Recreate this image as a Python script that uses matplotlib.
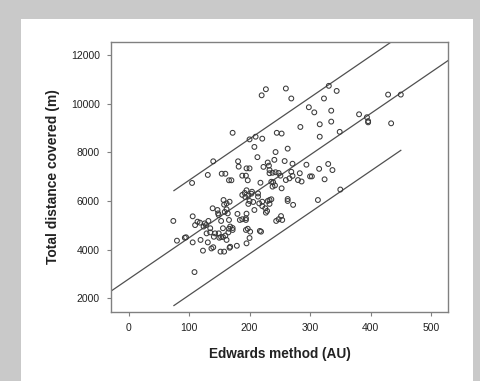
import numpy as np
import matplotlib.pyplot as plt
from matplotlib import patches

# Edwards TRIMP (AU) vs total distance covered (m)
edwards = [227, 220, 260, 269, 331, 344, 323, 298, 307, 335, 316, 335, 284, 381, 394, 396, 396,
           429, 450, 434, 349, 316, 245, 253, 221, 210, 200, 172, 208, 263, 243, 213, 140, 181,
           182, 195, 200, 131, 105, 154, 160, 166, 170, 188, 194, 197, 218, 223, 230, 232, 233,
           241, 238, 243, 248, 251, 258, 271, 269, 260, 266, 271, 280, 286, 283, 294, 300, 303,
           315, 330, 337, 324, 313, 350, 233,
           204, 195, 192, 188, 193, 198, 203, 206, 200, 198, 214, 214, 208, 216, 221, 221, 226,
           227, 230, 233, 236, 233, 229, 238, 242, 239, 236, 253, 263, 263, 272, 252, 244, 248,
           254, 217, 200, 195, 197, 194, 194, 188, 194, 180, 195, 184, 179, 168, 167, 158, 152,
           160, 156, 153, 150, 162, 165, 166, 168, 172, 172, 166, 164, 162, 158, 157, 162, 167,
           159, 153, 148, 149, 139, 147, 135, 135, 129, 141, 143, 149, 156, 131, 137, 140, 123,
           119, 106, 109, 80, 93, 95, 74, 106, 114, 118, 126, 128, 132, 110, 124, 201, 219]
distance = [10590, 10340, 10620, 10210, 10730, 10520, 10210, 9850, 9640, 9710, 9150, 9260, 9040,
            9560, 9440, 9230, 9280, 10370, 10370, 9190, 8840, 8640, 8800, 8770, 8560, 8640, 8530,
            8800, 8220, 8150, 8010, 7800, 7630, 7630, 7410, 7340, 7340, 7070, 6740, 7120, 7120,
            6850, 6850, 7040, 7040, 6850, 6750, 7400, 7580, 7450, 7270, 7690, 7160, 7180, 7150,
            7040, 7640, 7530, 7200, 6860, 6930, 7030, 6860, 6800, 7140, 7490, 7010, 7010, 7320,
            7520, 7270, 6890, 6040, 6470, 7140,
            6380, 6440, 6330, 6250, 6160, 6220, 6300, 5960, 6000, 5880, 6310, 6180, 5630, 5900,
            5970, 5790, 5700, 5520, 6000, 6040, 6070, 5880, 5590, 6590, 6640, 6770, 6790, 6520,
            6080, 6000, 5840, 5380, 5180, 5250, 5220, 4770, 4480, 4260, 4860, 4810, 5220, 5250,
            5290, 5470, 5480, 5220, 4160, 4120, 4080, 3920, 3920, 4580, 4520, 4520, 4490, 4400,
            4710, 4860, 4950, 4890, 4810, 5220, 5490, 5660, 5850, 6040, 5900, 5970, 5550, 5180,
            5490, 5420, 5700, 5630, 4880, 4710, 4670, 4530, 4670, 4670, 4880, 4300, 4050, 4100,
            3960, 4400, 4300, 3080, 4370, 4490, 4510, 5180, 5370, 5150, 5110, 5080, 5010, 5180,
            5010, 4950, 4740, 4740]

# regression line and 95% prediction band
fit_intercept = 2790
fit_slope = 17.0
band_half = 2360
band_x = [75, 450]

xticks = [0, 100, 200, 300, 400, 500]
yticks = [2000, 4000, 6000, 8000, 10000, 12000]

fig = plt.figure(figsize=(4.8, 3.81), dpi=100)
fig.patch.set_facecolor('#c9c9c9')
fig.patches.append(patches.Rectangle((21/480, 0), (473-21)/480, 1 - 19/381,
                                     transform=fig.transFigure, facecolor='white',
                                     edgecolor='none', zorder=-10))

ax = fig.add_axes([111/480, 1 - 312/381, (448-111)/480, (312-42)/381])
ax.set_zorder(1)
ax.set_xlim(-29, 528)
ax.set_ylim(1440, 12530)

xl = np.array(ax.get_xlim())
ax.plot(xl, fit_intercept + fit_slope * xl, color='#505050', lw=0.9)
bx = np.array(band_x)
ax.plot(bx, fit_intercept + fit_slope * bx + band_half, color='#505050', lw=0.9)
ax.plot(bx, fit_intercept + fit_slope * bx - band_half, color='#505050', lw=0.9)

ax.scatter(edwards, distance, s=12, facecolors='none', edgecolors='#3a3a3a',
           linewidths=0.75, zorder=3)

ax.set_xticks(xticks)
ax.set_yticks(yticks)
for s in ax.spines.values():
    s.set_color('#808080')
    s.set_linewidth(1.0)
ax.tick_params(direction='out', length=3, width=0.8, color='#808080',
               labelsize=7.5, labelcolor='#222222', pad=5)
for lab in ax.get_xticklabels() + ax.get_yticklabels():
    lab.set_family('Liberation Sans')

ax.set_xlabel('Edwards method (AU)', fontsize=9.8, fontweight='bold',
              family='Liberation Sans', color='#222222', labelpad=10)
ax.set_ylabel('Total distance covered (m)', fontsize=10, fontweight='bold',
              family='Liberation Sans', color='#222222', labelpad=8)

fig.savefig('out.png', dpi=100, facecolor=fig.get_facecolor())
